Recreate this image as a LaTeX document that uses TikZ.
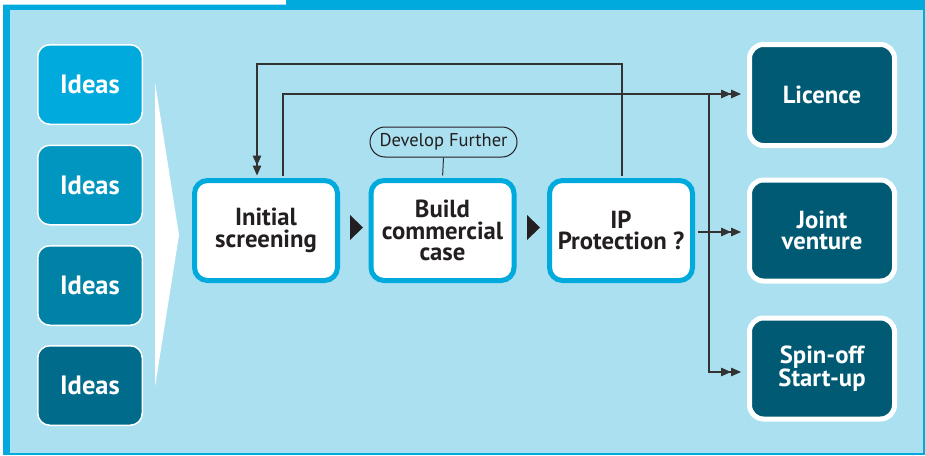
\documentclass[tikz,border=0pt]{standalone}
\usepackage{fontspec}
\setmainfont{PT Sans}
\usetikzlibrary{arrows.meta,calc}
\definecolor{bg}{HTML}{ABE0F1}
\definecolor{cy}{HTML}{00AADD}
\definecolor{ida}{HTML}{00AADC}
\definecolor{idb}{HTML}{0096C0}
\definecolor{idc}{HTML}{0082A6}
\definecolor{idd}{HTML}{006B8A}
\definecolor{dk}{HTML}{005A73}
\definecolor{tx}{HTML}{231F20}
\definecolor{ln}{HTML}{333333}
\begin{document}
\begin{tikzpicture}[x=1pt,y=-1pt,
 idea/.style={draw=white, line width=1.5pt, rounded corners=12pt, minimum width=104.5pt, minimum height=79.5pt, inner sep=0pt, text=white, font=\fontsize{26.5}{26.5}\selectfont\bfseries},
 proc/.style={draw=cy, fill=white, line width=5pt, rounded corners=13pt, minimum width=143pt, minimum height=100pt, inner sep=0pt, align=center, text=tx, font=\fontsize{24.7}{21.5}\selectfont\bfseries},
 outbox/.style={draw=white, fill=dk, line width=5pt, rounded corners=14pt, minimum width=145pt, minimum height=101pt, inner sep=0pt, align=center, text=white, font=\fontsize{24.7}{21.5}\selectfont\bfseries},
 pill/.style={draw=tx, line width=1pt, rounded corners=15pt, minimum width=147pt, minimum height=30pt, inner sep=0pt, text=tx, font=\fontsize{18.5}{18.5}\selectfont},
 conn/.style={draw=ln, line width=1.2pt},
 dbl/.style={conn, -{Triangle[length=10pt,width=8.5pt]Triangle[length=10pt,width=8.5pt]}},
]
\useasboundingbox (0,0) rectangle (925,455);
\fill[white] (0,0) rectangle (925,455);
\fill[cy] (286,0) rectangle (925,5);
\draw[cy!35, line width=0.8pt] (3,4.5) -- (286,4.5);
\fill[cy] (3,5) rectangle (925,455);
\fill[bg] (10,10) rectangle (923,453);

% chevron
\fill[white] (155,82) -- (179,235) -- (155,387) -- cycle;

% ideas
\node[idea, fill=ida] (i1) at (90,84.5) {Ideas};
\node[idea, fill=idb] (i2) at (90,185) {Ideas};
\node[idea, fill=idc] (i3) at (90,285.5) {Ideas};
\node[idea, fill=idd] (i4) at (90,385.5) {Ideas};

% process
\node[proc] (init) at (266,230.5) {Initial\\screening};
\node[proc] (build) at (442.5,230.5) {Build\\commercial\\case};
\node[proc] (ip) at (621,230.5) {IP\\Protection ?};
\node[pill] (dev) at (443.5,142) {Develop Further};

% outcomes
\node[outbox] (lic) at (822,95) {Licence};
\node[outbox] (jv) at (822,230.5) {Joint\\venture};
\node[outbox] (spin) at (822,368.5) {Spin-off\\Start-up};

% flow triangles
\fill[tx] (350,215) -- (363,227.5) -- (350,240) -- cycle;
\fill[tx] (527,215) -- (540,227.5) -- (527,240) -- cycle;

% connectors
\draw[conn, line width=1pt, shorten >=2.5pt] (dev.south) -- (build.north);
\coordinate (a1) at (622,64);
\coordinate (a2) at (257,64);
\draw[dbl, shorten <=2.5pt, shorten >=2.5pt] (ip.north -| a1) -- (a1) -- (a2) -- (init.north -| a2);
\coordinate (b1) at (283,94);
\coordinate (b2) at (709,94);
\coordinate (b3) at (709,372);
\coordinate (c1) at (695,232);
\draw[dbl, shorten <=2.5pt, shorten >=6pt] (init.north -| b1) -- (b1) -- (lic.west |- b1);
\draw[dbl, shorten >=6pt] (b2) -- (b3) -- (spin.west |- b3);
\draw[dbl, shorten <=2.5pt, shorten >=6pt] (ip.east |- c1) -- (jv.west |- c1);
\end{tikzpicture}
\end{document}
